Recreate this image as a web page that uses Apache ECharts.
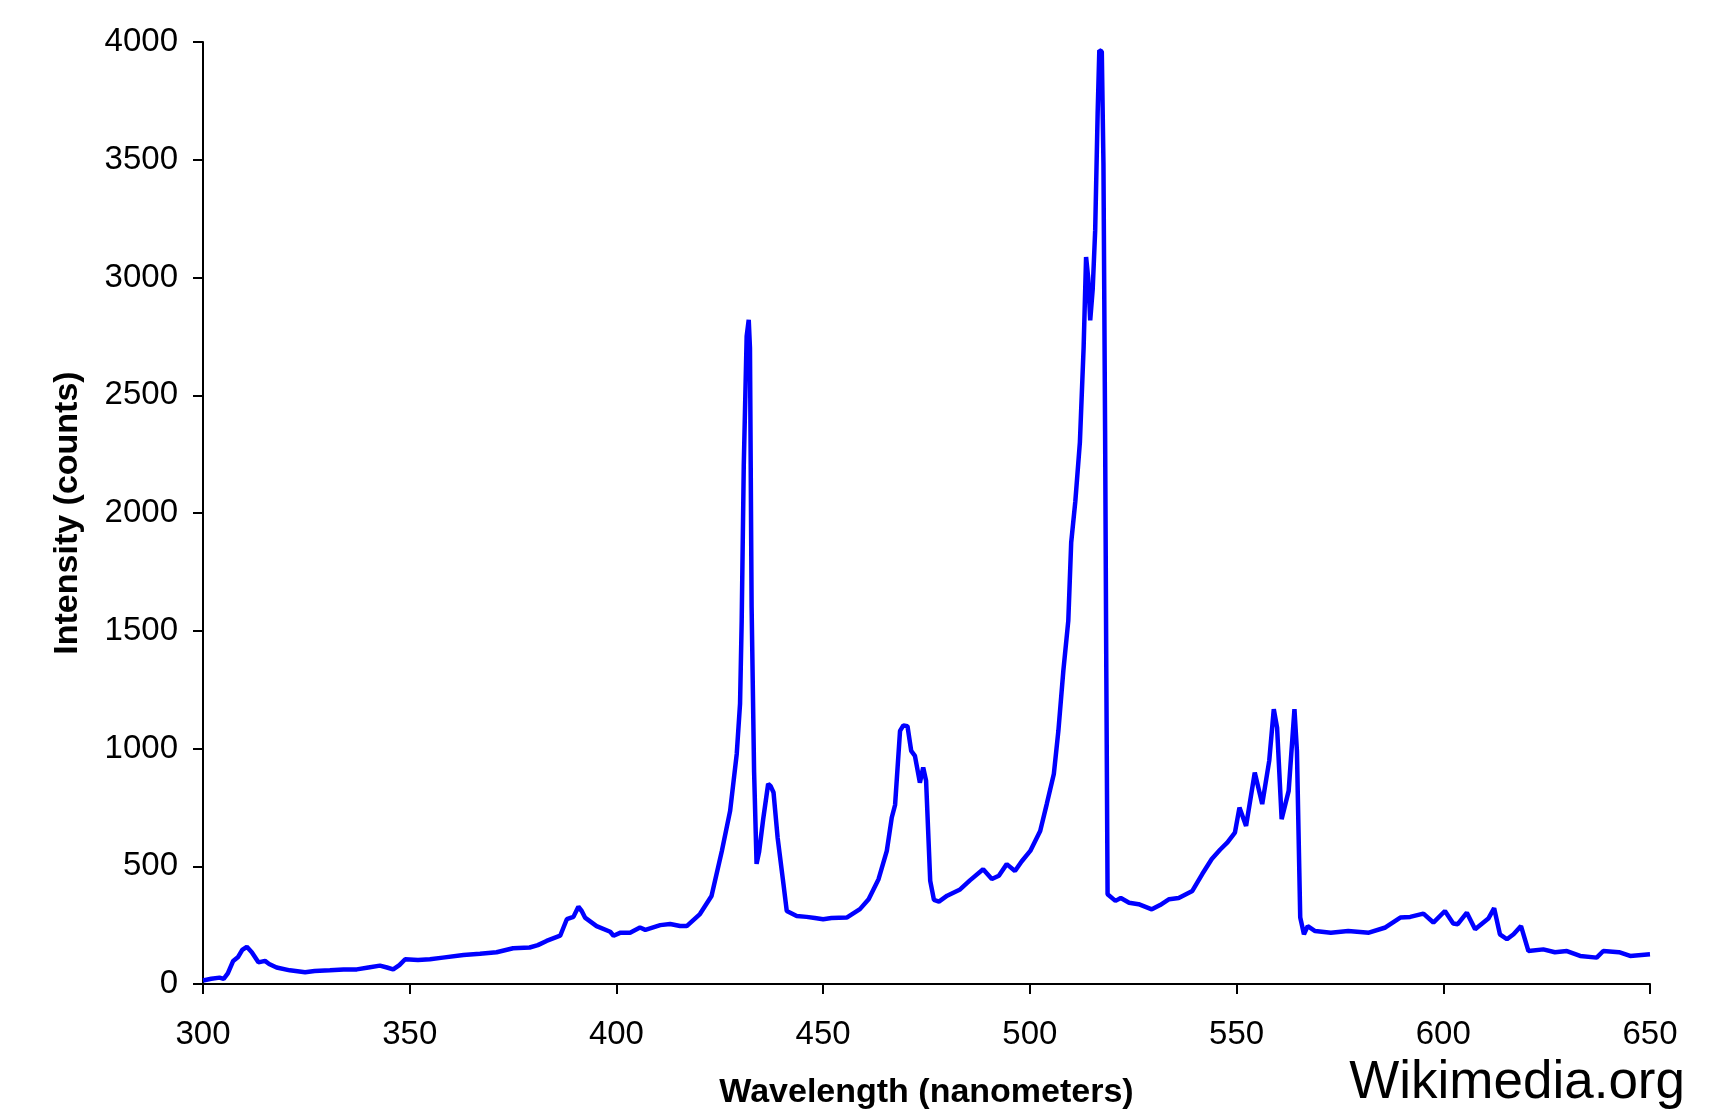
<!DOCTYPE html>
<html>
<head>
<meta charset="utf-8">
<title>Spectrum</title>
<script src="https://cdn.jsdelivr.net/npm/echarts@6/dist/echarts.min.js"></script>
<style>
    html, body { margin: 0; padding: 0; background: #fff; }
    #spectrum { width: 1736px; height: 1116px; }
</style>
</head>
<body>
<div id="spectrum"></div>
<script>
    // wavelength (nm)
    var wavelength = [
        300, 302, 304, 305, 306, 307.3, 308.5, 309.5, 310.6, 311.8, 313.4, 315, 316, 317.8, 321, 324.7,
        327, 330.7, 334, 337.2, 340, 342.8, 344.5, 346, 347.5, 348.9, 352, 354.9, 358, 363, 367, 371,
        375, 379, 381, 383.1, 386.4, 388, 389.6, 390.8, 391.6, 392.4, 395.2, 398.5, 399.3, 401, 403.3,
        405.7, 407, 410.6, 413, 415.4, 417, 420.2, 423, 425.5, 427.5, 429.1, 429.9, 430.3, 430.8, 431.5,
        432.0, 432.3, 432.7, 433.3, 433.9, 434.5, 435.5, 436.7, 437.3, 438, 439, 440.4, 441.2, 443.6,
        446, 448, 450, 452, 455.7, 458.9, 461, 463.4, 465.4, 466.6, 467.4, 468.6, 469.4, 470.4, 471.3,
        472.2, 473.4, 474.2, 474.9, 475.9, 476.8, 478, 480, 483, 485.5, 488.7, 490.8, 492.5, 494.4,
        496.4, 498, 500.1, 502.5, 504.1, 505.3, 505.8, 506.9, 508.1, 509.3, 510, 511, 512.1, 513,
        513.6, 514.1, 514.6, 515.2, 515.8, 516.4, 516.8, 517.4, 517.8, 518.2, 518.5, 518.8, 520.7,
        522, 524, 526.3, 529.5, 531.5, 533.7, 536, 539.3, 541.7, 544, 546, 547.8, 549.6, 550.7, 552.3,
        554.4, 556.2, 557.9, 559, 559.8, 560.9, 562.6, 564, 564.6, 565.4, 566.3, 567.2, 569, 572.8,
        577, 582, 586, 589.6, 592, 595.2, 597.6, 600.4, 602.4, 603.5, 605.7, 607.7, 610.9, 612.3,
        613.7, 615.4, 617, 618.8, 620.6, 624.2, 627, 629.9, 633.1, 637.1, 638.7, 642.5, 645.2, 650
    ];
    // intensity (counts)
    var intensity = [
        15, 22, 27, 22, 45, 98, 115, 145, 158, 135, 92, 98, 85, 70, 58, 50,
        55, 58, 62, 62, 70, 78, 70, 62, 80, 105, 102, 105, 112, 123, 128, 135,
        152, 155, 165, 183, 205, 275, 285, 328, 310, 282, 246, 222, 205, 218, 218,
        240, 230, 250, 255, 246, 246, 297, 374, 565, 735, 977, 1190, 1543, 2200, 2750,
        2820, 2700, 1600, 900, 510, 560, 700, 850, 840, 813, 620, 425, 310, 289,
        285, 280, 275, 280, 282, 318, 360, 445, 565, 707, 760, 1075, 1098, 1095, 990,
        969, 855, 919, 863, 438, 357, 350, 375, 400, 440, 487, 446, 460, 509,
        480, 520, 565, 650, 765, 855, 892, 1075, 1330, 1543, 1875, 2050, 2300, 2700,
        3087, 3000, 2818, 2950, 3200, 3700, 3965, 3960, 3485, 2350, 1300, 381, 353,
        365, 345, 339, 317, 335, 360, 365, 395, 467, 531, 570, 601, 643, 749, 671,
        898, 764, 948, 1167, 1089, 700, 820, 1167, 990, 282, 211, 246, 225, 218,
        225, 218, 240, 282, 285, 299, 261, 310, 257, 254, 303, 232, 278, 322,
        211, 190, 211, 246, 140, 147, 135, 140, 119, 112, 140, 135, 119, 126
    ];
    var xTicks = [300, 350, 400, 450, 500, 550, 600, 650];
    var yTicks = [0, 500, 1000, 1500, 2000, 2500, 3000, 3500, 4000];

    var points = [];
    for (var i = 0; i < wavelength.length; i++) {
        points.push([wavelength[i], intensity[i]]);
    }

    var chart = echarts.init(document.getElementById('spectrum'));
    var axisLabelFont = { fontFamily: 'Liberation Sans', fontSize: 33, color: '#000' };
    var titleFont = { fontFamily: 'Liberation Sans', fontSize: 34, fontWeight: 'bold', color: '#000' };

    var option = {
        animation: false,
        backgroundColor: '#fff',
        grid: { left: 203, right: 86, top: 42, bottom: 132 },
        xAxis: {
            type: 'value',
            min: xTicks[0],
            max: xTicks[xTicks.length - 1],
            interval: 50,
            name: 'Wavelength (nanometers)',
            nameLocation: 'middle',
            nameGap: 92,
            nameTextStyle: titleFont,
            axisLine: { lineStyle: { color: '#000', width: 2 } },
            axisTick: { inside: false, length: 10, lineStyle: { color: '#000', width: 2 } },
            axisLabel: Object.assign({ margin: 34, formatter: function (v) { return String(v); } }, axisLabelFont),
            splitLine: { show: false }
        },
        yAxis: {
            type: 'value',
            min: yTicks[0],
            max: yTicks[yTicks.length - 1],
            interval: 500,
            name: 'Intensity (counts)',
            nameLocation: 'middle',
            nameGap: 118,
            nameTextStyle: titleFont,
            axisLine: { show: true, lineStyle: { color: '#000', width: 2 } },
            axisTick: { show: true, inside: false, length: 10, lineStyle: { color: '#000', width: 2 } },
            axisLabel: Object.assign({ margin: 25, formatter: function (v) { return String(v); } }, axisLabelFont),
            splitLine: { show: false }
        },
        graphic: [{
            type: 'text',
            right: 51,
            top: 1057,
            style: { text: 'Wikimedia.org', fontFamily: 'Liberation Sans', fontSize: 53, fill: '#000' }
        }],
        series: [{
            type: 'line',
            data: points,
            showSymbol: false,
            smooth: false,
            lineStyle: { color: '#0000ff', width: 4.5 }
        }]
    };

    chart.setOption(option);
</script>
</body>
</html>
